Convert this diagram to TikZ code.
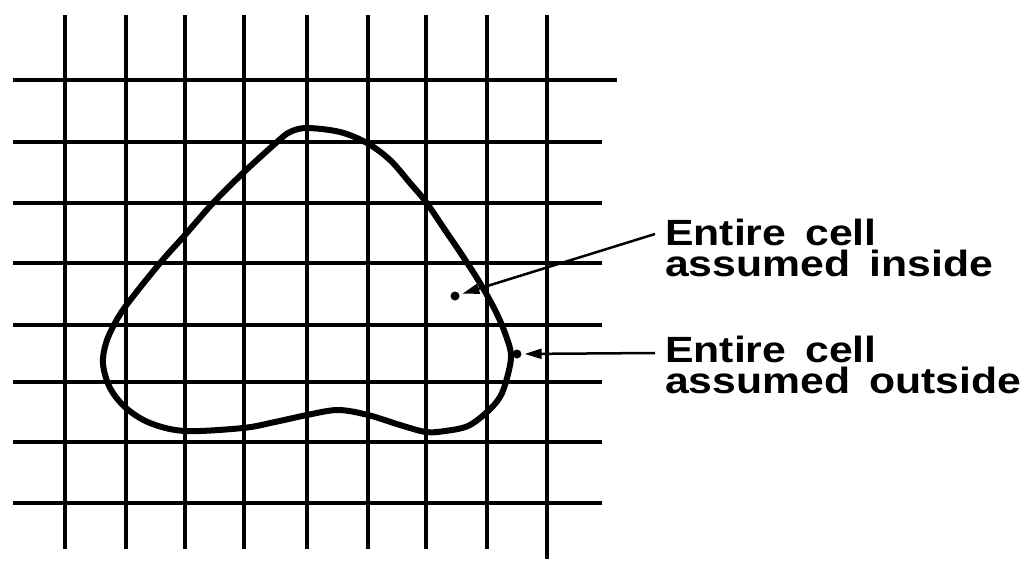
\documentclass[tikz,border=0pt]{standalone}
\usepackage{fontspec}
\setmainfont{Liberation Sans}
\usetikzlibrary{arrows.meta}
\newcommand{\twolines}[2]{\vtop{\baselineskip=31.5pt\hbox{\scalebox{1.17}[1]{#1}}\hbox{\scalebox{1.17}[1]{#2}}}}
\begin{document}
\begin{tikzpicture}[x=1pt,y=-1pt,
  gridline/.style={line width=3.2pt},
  contour/.style={line width=6pt},
  dotpt/.style={circle,fill=black,inner sep=0pt,minimum size=9pt},
  lbl/.style={anchor=base west,inner sep=0pt,font=\bfseries\fontsize{36.5}{36.5}\selectfont},
  pointer/.style={line width=2.5pt,-{Triangle[length=17pt,width=10pt]},shorten >=3pt}]
\useasboundingbox (0,0) rectangle (1028,560);
% vertical grid lines
\foreach \x in {65,126,185,244,307,368,426,487}
  \draw[gridline] (\x,15) -- (\x,549);
\draw[gridline] (547,15) -- (547,559);
% horizontal grid lines
\draw[gridline] (13,80) -- (617,80);
\foreach \y in {142,203,263,325,382,442,503}
  \draw[gridline] (13,\y) -- (602,\y);
% contour
\draw[contour] plot[smooth cycle,tension=0.55] coordinates {
  (307,128) (340,132) (367,143) (390,160) (410,183) (426,202) (445,230)
  (462,255) (480,283) (495,310) (505,333) (511,355) (507,378) (500,397)
  (487,412) (468,426) (445,431) (426,432) (400,425) (368,415) (338,410)
  (307,415) (275,422) (243,428) (185,431) (150,423) (126,408) (110,388)
  (103,364) (106,343) (115,323) (128,303) (160,263) (185,235) (213,203)
  (243,173) (277,142) (290,132)};
% dots
\node[dotpt] (din) at (455,296) {};
\node[dotpt] (dout) at (517,354) {};
% labels
\node[lbl] (l1) at (665,245) {\twolines{Entire\hspace{0.45em}cell}{assumed\hspace{0.45em}inside}};
\node[lbl] (l2) at (665,362) {\twolines{Entire\hspace{0.45em}cell}{assumed\hspace{0.45em}outside}};
\coordinate (s1) at (655,234);
\coordinate (s2) at (655,353);
\draw[pointer] (s1) -- (din);
\draw[pointer] (s2) -- (dout);
\end{tikzpicture}
\end{document}
